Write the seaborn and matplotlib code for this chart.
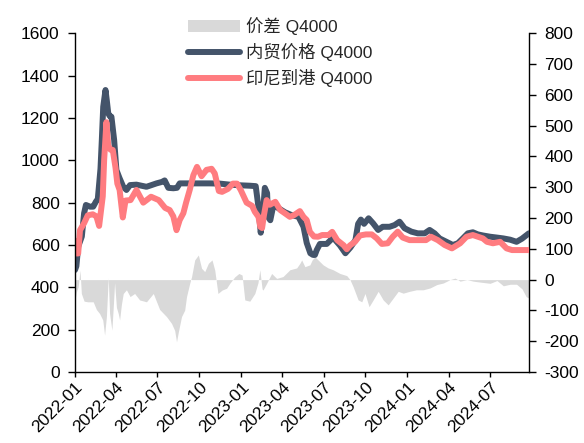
import matplotlib
matplotlib.use("Agg")
import matplotlib.pyplot as plt
import matplotlib.dates as mdates
from matplotlib.patches import Patch
from matplotlib.lines import Line2D
import seaborn as sns
import pandas as pd

# ---------------- data ----------------
domestic_dates = [
    "2022-01-01", "2022-01-04", "2022-01-08", "2022-01-16", "2022-01-21", "2022-01-25",
    "2022-02-03", "2022-02-10", "2022-02-16", "2022-02-20", "2022-02-26", "2022-03-01",
    "2022-03-04", "2022-03-09", "2022-03-12", "2022-03-15", "2022-03-18", "2022-03-22",
    "2022-03-28", "2022-04-02", "2022-04-09", "2022-04-17", "2022-04-24", "2022-05-02",
    "2022-05-16", "2022-06-07", "2022-06-14", "2022-06-29", "2022-07-11", "2022-07-17",
    "2022-07-25", "2022-08-05", "2022-08-13", "2022-08-19", "2022-09-10", "2022-10-02",
    "2022-10-24", "2022-11-15", "2022-12-07", "2022-12-29", "2023-01-20", "2023-02-02",
    "2023-02-08", "2023-02-13", "2023-02-18", "2023-02-22", "2023-02-27", "2023-03-01",
    "2023-03-06", "2023-03-13", "2023-03-23", "2023-04-07", "2023-04-22", "2023-05-07",
    "2023-05-18", "2023-05-25", "2023-06-02", "2023-06-08", "2023-06-12", "2023-06-16",
    "2023-06-23", "2023-07-08", "2023-07-22", "2023-08-06", "2023-08-18", "2023-08-29",
    "2023-09-09", "2023-09-15", "2023-09-21", "2023-09-28", "2023-10-08", "2023-10-18",
    "2023-10-29", "2023-11-08", "2023-11-23", "2023-12-04", "2023-12-15", "2023-12-26",
    "2024-01-10", "2024-01-24", "2024-02-08", "2024-02-19", "2024-03-01", "2024-03-12",
    "2024-03-27", "2024-04-10", "2024-04-21", "2024-05-02", "2024-05-13", "2024-05-24",
    "2024-06-04", "2024-06-15", "2024-07-01", "2024-07-16", "2024-07-30", "2024-08-14",
    "2024-08-28", "2024-09-09", "2024-09-18", "2024-09-24",
]
domestic_vals = [
    482, 500, 592, 640, 750, 789,
    781, 781, 805, 815, 960, 1100,
    1253, 1332, 1280, 1222, 1210, 1206,
    1096, 954, 915, 875, 860, 883,
    885, 875, 880, 891, 898, 905,
    870, 868, 870, 891, 891, 891,
    891, 890, 885, 882, 880, 878,
    780, 658, 750, 870, 845, 733,
    717, 790, 775, 755, 741, 733,
    686, 610, 561, 553, 553, 576,
    605, 605, 635, 598, 561, 588,
    623, 700, 720, 700, 726, 702,
    671, 686, 686, 694, 710, 679,
    663, 655, 655, 671, 655, 631,
    615, 600, 608, 631, 655, 660,
    650, 645, 639, 635, 631, 625,
    615, 630, 645, 655,
]

indo_dates = [
    "2022-01-01", "2022-01-04", "2022-01-08", "2022-01-12", "2022-01-21", "2022-01-29",
    "2022-02-09", "2022-02-17", "2022-02-23", "2022-02-27", "2022-03-03", "2022-03-06",
    "2022-03-11", "2022-03-15", "2022-03-20", "2022-03-25", "2022-03-31", "2022-04-04",
    "2022-04-09", "2022-04-16", "2022-04-22", "2022-05-03", "2022-05-16", "2022-05-31",
    "2022-06-17", "2022-07-04", "2022-07-18", "2022-07-28", "2022-08-05", "2022-08-12",
    "2022-08-19", "2022-08-27", "2022-09-02", "2022-09-10", "2022-09-18", "2022-09-26",
    "2022-10-06", "2022-10-17", "2022-10-28", "2022-11-04", "2022-11-13", "2022-11-20",
    "2022-12-03", "2022-12-14", "2022-12-23", "2022-12-31", "2023-01-13", "2023-01-25",
    "2023-01-31", "2023-02-08", "2023-02-12", "2023-02-16", "2023-02-20", "2023-02-26",
    "2023-03-05", "2023-03-17", "2023-03-28", "2023-04-07", "2023-04-18", "2023-04-27",
    "2023-05-10", "2023-05-18", "2023-05-25", "2023-06-01", "2023-06-10", "2023-06-19",
    "2023-06-28", "2023-07-12", "2023-07-20", "2023-07-31", "2023-08-14", "2023-08-21",
    "2023-08-28", "2023-09-08", "2023-09-19", "2023-10-02", "2023-10-15", "2023-10-26",
    "2023-11-06", "2023-11-19", "2023-11-30", "2023-12-11", "2023-12-22", "2024-01-06",
    "2024-01-24", "2024-02-11", "2024-02-22", "2024-03-08", "2024-03-23", "2024-04-08",
    "2024-04-26", "2024-05-10", "2024-05-24", "2024-06-04", "2024-06-15", "2024-06-24",
    "2024-07-07", "2024-07-23", "2024-08-06", "2024-08-18", "2024-09-05", "2024-09-24",
]
indo_vals = [
    620, 560, 560, 670, 703, 740,
    745, 735, 690, 760, 830, 1000,
    1180, 1070, 1050, 1049, 965, 890,
    860, 730, 810, 812, 860, 800,
    828, 812, 775, 765, 735, 670,
    718, 750, 800, 860, 930, 969,
    925, 955, 960, 938, 855, 851,
    865, 890, 890, 860, 800, 785,
    757, 733, 686, 680, 740, 812,
    790, 804, 765, 750, 733, 741,
    760, 733, 718, 662, 640, 639,
    647, 647, 662, 623, 599, 580,
    598, 615, 645, 650, 650, 631,
    605, 608, 639, 663, 635, 623,
    623, 623, 639, 623, 600, 584,
    608, 639, 647, 639, 631, 615,
    608, 615, 584, 576, 576, 576,
]

spread_dates = [
    "2022-01-01", "2022-01-04", "2022-01-08", "2022-01-12", "2022-01-15", "2022-01-21",
    "2022-01-29", "2022-02-10", "2022-02-17", "2022-02-24", "2022-03-03", "2022-03-07",
    "2022-03-11", "2022-03-15", "2022-03-18", "2022-03-23", "2022-03-26", "2022-03-29",
    "2022-04-02", "2022-04-06", "2022-04-09", "2022-04-13", "2022-04-17", "2022-04-24",
    "2022-05-02", "2022-05-12", "2022-05-23", "2022-06-07", "2022-06-22", "2022-07-06",
    "2022-07-21", "2022-08-01", "2022-08-08", "2022-08-12", "2022-08-16", "2022-08-23",
    "2022-08-30", "2022-09-03", "2022-09-10", "2022-09-14", "2022-09-21", "2022-09-29",
    "2022-10-06", "2022-10-13", "2022-10-21", "2022-10-29", "2022-11-04", "2022-11-11",
    "2022-11-20", "2022-11-30", "2022-12-07", "2022-12-18", "2022-12-27", "2023-01-03",
    "2023-01-09", "2023-01-20", "2023-01-31", "2023-02-07", "2023-02-11", "2023-02-16",
    "2023-02-18", "2023-02-26", "2023-03-09", "2023-03-20", "2023-04-03", "2023-04-18",
    "2023-05-03", "2023-05-10", "2023-05-14", "2023-05-21", "2023-06-01", "2023-06-06",
    "2023-06-12", "2023-06-19", "2023-06-30", "2023-07-11", "2023-07-22", "2023-08-06",
    "2023-08-21", "2023-08-28", "2023-09-04", "2023-09-15", "2023-09-23", "2023-09-30",
    "2023-10-09", "2023-10-18", "2023-10-29", "2023-11-09", "2023-11-20", "2023-12-01",
    "2023-12-12", "2023-12-23", "2024-01-06", "2024-01-21", "2024-02-05", "2024-02-20",
    "2024-03-06", "2024-03-20", "2024-04-04", "2024-04-15", "2024-04-26", "2024-05-11",
    "2024-05-25", "2024-06-09", "2024-07-01", "2024-07-16", "2024-07-30", "2024-08-14",
    "2024-08-28", "2024-09-09", "2024-09-18", "2024-09-24",
]
spread_vals = [
    -66, -40, -23, 31, -45, -70,
    -72, -72, -97, -110, -131, -180,
    -120, 5, -110, -164, -90, -10,
    -90, -110, -131, -80, -45, -33,
    -55, -45, -66, -72, -45, -97,
    -120, -142, -165, -202, -170, -120,
    -99, -55, -12, 9, 64, 80,
    37, 26, 53, 64, 31, -45,
    -34, -28, -12, 9, 20, 15,
    -66, -70, -45, -10, 32, -30,
    -34, -12, 20, 4, 10, 32,
    38, 53, 64, 42, 48, 64,
    74, 64, 48, 38, 32, 20,
    13, 0, -23, -66, -72, -45,
    -88, -66, -38, -66, -82, -60,
    -38, -44, -38, -33, -33, -27,
    -16, -11, 0, 5, -5, 0,
    -5, -8, -12, -3, -20, -15,
    -15, -30, -55, -60,
]

label_spread = "价差 Q4000"
label_domestic = "内贸价格 Q4000"
label_indo = "印尼到港 Q4000"

left_ticks = [0, 200, 400, 600, 800, 1000, 1200, 1400, 1600]
right_ticks = [-300, -200, -100, 0, 100, 200, 300, 400, 500, 600, 700, 800]
x_tick_dates = ["2022-01-01", "2022-04-01", "2022-07-01", "2022-10-01", "2023-01-01",
                "2023-04-01", "2023-07-01", "2023-10-01", "2024-01-01", "2024-04-01",
                "2024-07-01"]

# ---------------- styling ----------------
sns.set_style("ticks")
plt.rcParams["font.family"] = ["Liberation Sans", "Noto Sans CJK SC", "DejaVu Sans"]
plt.rcParams["axes.unicode_minus"] = False

C_BLUE = "#44546A"
C_PINK = "#FF7C80"
C_GRAY = "#D9D9D9"
FS = 12.5
LW = 4.3

df_dom = pd.DataFrame({"date": pd.to_datetime(domestic_dates), "v": domestic_vals})
df_ind = pd.DataFrame({"date": pd.to_datetime(indo_dates), "v": indo_vals})
df_spr = pd.DataFrame({"date": pd.to_datetime(spread_dates), "v": spread_vals})

fig = plt.figure(figsize=(5.84, 4.43), dpi=100)
ax = fig.add_axes([75 / 584, 1 - 372 / 443, (529.3 - 75) / 584, (372 - 33.3) / 443])
ax2 = ax.twinx()

# spread area on right axis
ax2.fill_between(df_spr["date"], 0, df_spr["v"], color=C_GRAY, linewidth=0)

# price lines on left axis
sns.lineplot(data=df_dom, x="date", y="v", ax=ax, color=C_BLUE, linewidth=LW)
sns.lineplot(data=df_ind, x="date", y="v", ax=ax, color=C_PINK, linewidth=LW)

ax.set_zorder(ax2.get_zorder() + 1)
ax.patch.set_visible(False)

ax.set_ylim(0, 1600)
ax2.set_ylim(-300, 800)
ax.set_yticks(left_ticks)
ax2.set_yticks(right_ticks)
ax.set_xlim(pd.Timestamp("2022-01-01"), pd.Timestamp("2024-09-25"))
ax.set_xticks(pd.to_datetime(x_tick_dates))
ax.xaxis.set_major_formatter(mdates.DateFormatter("%Y-%m"))
ax.set_xlabel("")
ax.set_ylabel("")
ax2.set_ylabel("")

for a in (ax, ax2):
    a.spines["top"].set_visible(False)
    for s in a.spines.values():
        s.set_color("#000000")
        s.set_linewidth(1.0)
    a.tick_params(axis="y", labelsize=FS, length=5, width=1, colors="#000000", pad=6)
ax.spines["right"].set_visible(False)
ax2.spines["left"].set_visible(False)
ax2.spines["bottom"].set_visible(False)
ax2.spines["right"].set_visible(True)
ax.tick_params(axis="x", labelsize=FS, length=3.5, width=1, colors="#000000", pad=2)
for lab in ax.get_xticklabels():
    lab.set_rotation(45)
    lab.set_ha("right")
    lab.set_rotation_mode("anchor")

handles = [
    Patch(facecolor=C_GRAY, edgecolor="none"),
    Line2D([0], [0], color=C_BLUE, linewidth=LW, solid_capstyle="round"),
    Line2D([0], [0], color=C_PINK, linewidth=LW, solid_capstyle="round"),
]
fig.legend(handles, [label_spread, label_domestic, label_indo],
           loc="center", bbox_to_anchor=(280 / 584, 1 - 52 / 443),
           frameon=False, fontsize=FS, handlelength=3.0, handletextpad=0.35,
           labelspacing=0.45, borderpad=0.2)

fig.savefig("out.png", dpi=100)
